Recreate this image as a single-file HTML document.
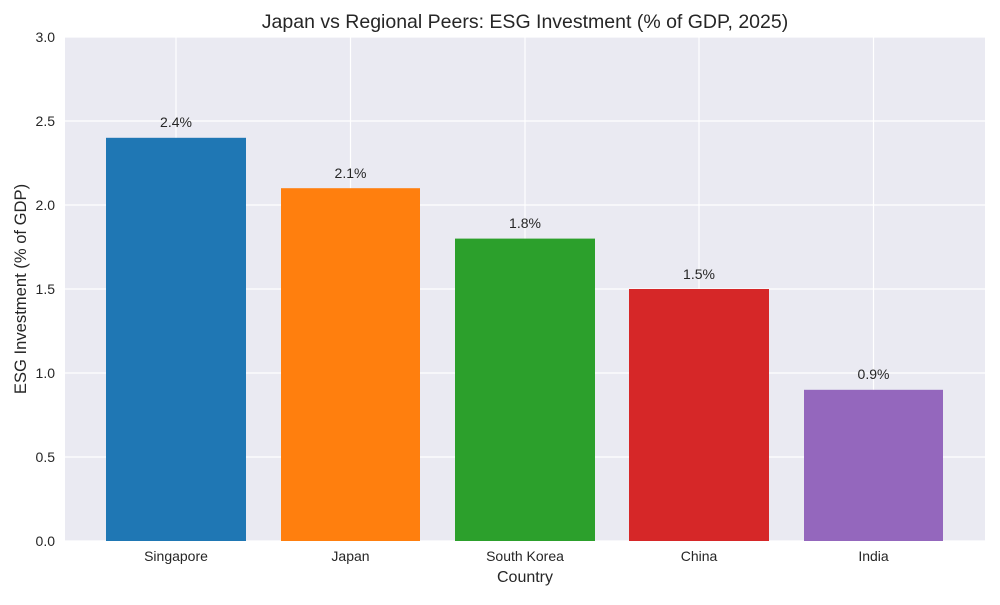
<!DOCTYPE html>
<html><head><meta charset="utf-8"><style>
body{margin:0;background:#fff;}
svg text{font-family:"Liberation Sans",sans-serif;fill:#262626;}
</style></head><body>
<svg width="1000" height="600" viewBox="0 0 1000 600">
<rect x="0" y="0" width="1000" height="600" fill="#fff"/>
<rect x="65" y="37" width="920" height="504" fill="#eaeaf2"/>
<g stroke="#fff" stroke-width="1.2">
<line x1="65" x2="985" y1="541" y2="541"/>
<line x1="65" x2="985" y1="457" y2="457"/>
<line x1="65" x2="985" y1="373" y2="373"/>
<line x1="65" x2="985" y1="289" y2="289"/>
<line x1="65" x2="985" y1="205" y2="205"/>
<line x1="65" x2="985" y1="121" y2="121"/>
<line x1="65" x2="985" y1="37" y2="37"/>
<line x1="176" x2="176" y1="37" y2="541"/>
<line x1="350.5" x2="350.5" y1="37" y2="541"/>
<line x1="525" x2="525" y1="37" y2="541"/>
<line x1="699" x2="699" y1="37" y2="541"/>
<line x1="873.5" x2="873.5" y1="37" y2="541"/>
</g>
<rect x="106" y="137.8" width="140" height="403.2" fill="#1f77b4"/>
<rect x="281" y="188.2" width="139" height="352.8" fill="#ff7f0e"/>
<rect x="455" y="238.6" width="140" height="302.4" fill="#2ca02c"/>
<rect x="629" y="289" width="140" height="252" fill="#d62728"/>
<rect x="804" y="389.8" width="139" height="151.2" fill="#9467bd"/>
<g font-size="14" text-anchor="middle">
<text x="176" y="127">2.4%</text>
<text x="350.5" y="178">2.1%</text>
<text x="525" y="228">1.8%</text>
<text x="699" y="279">1.5%</text>
<text x="873.5" y="379">0.9%</text>
<text x="176" y="561">Singapore</text>
<text x="350.5" y="561">Japan</text>
<text x="525" y="561">South Korea</text>
<text x="699" y="561">China</text>
<text x="873.5" y="561">India</text>
</g>
<g font-size="14" text-anchor="end">
<text x="55" y="546">0.0</text>
<text x="55" y="462">0.5</text>
<text x="55" y="378">1.0</text>
<text x="55" y="294">1.5</text>
<text x="55" y="210">2.0</text>
<text x="55" y="126">2.5</text>
<text x="55" y="42">3.0</text>
</g>
<text x="525" y="582" font-size="16" text-anchor="middle">Country</text>
<text x="26" y="289" font-size="16.6" text-anchor="middle" transform="rotate(-90 26 289)">ESG Investment (% of GDP)</text>
<text x="525" y="28" font-size="19.5" text-anchor="middle">Japan vs Regional Peers: ESG Investment (% of GDP, 2025)</text>
</svg>
</body></html>
